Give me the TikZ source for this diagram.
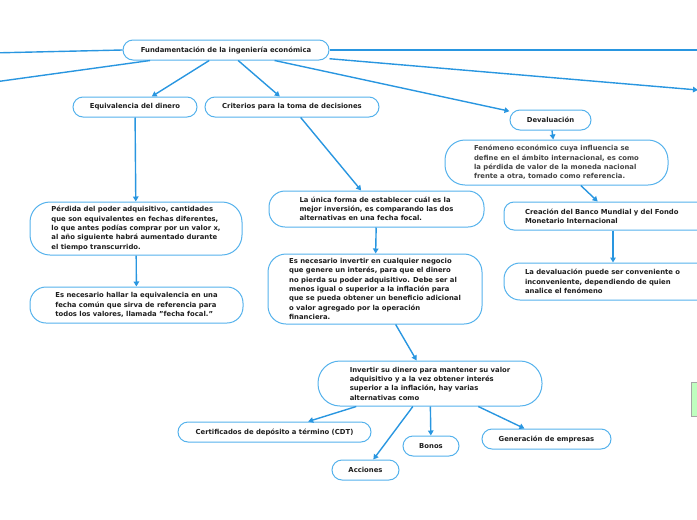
\documentclass[tikz,border=0pt]{standalone}
\usepackage{fontspec}
\setmainfont{DejaVu Sans}
\usetikzlibrary{arrows.meta}
\definecolor{lineblue}{HTML}{2996E0}
\definecolor{boxblue}{HTML}{55B2EC}
\definecolor{txt}{HTML}{1E1E1E}
\definecolor{txtgray}{HTML}{444444}
\begin{document}
\begin{tikzpicture}[x=1pt,y=-1pt,
  box/.style={draw=boxblue, line width=1pt, rounded corners=10pt, fill=white,
    align=left, text=txt, inner xsep=0pt, inner ysep=2pt,
    font=\fontsize{6.85}{9.3}\selectfont\bfseries},
  tallbox/.style={box, rounded corners=16pt},
  conn/.style={draw=lineblue, line width=1.4pt, -{Triangle[length=5pt,width=5.5pt]}},
  plain/.style={draw=lineblue, line width=1.4pt}]
\useasboundingbox (0,0) rectangle (697,520);

\node[box, minimum width=206pt, minimum height=20pt] (root) at (226,50) {Fundamentación de la ingeniería económica};
\node[box, minimum width=124pt, minimum height=20pt] (equiv) at (135,107) {Equivalencia del dinero};
\node[box, minimum width=174pt, minimum height=20pt] (crit) at (292,107) {Criterios para la toma de decisiones};
\node[box, minimum width=81pt, minimum height=20pt] (deval) at (550.5,120) {Devaluación};
\node[tallbox, minimum width=223pt, minimum height=45pt, rounded corners=20pt, text=txtgray] (fen) at (556.5,162.5)
  {Fenómeno económico cuya influencia se\\ define en el ámbito internacional, es como\\ la pérdida de valor de la moneda nacional\\ frente a otra, tomado como referencia.};
\node[box, text width=176pt, inner xsep=21pt, minimum height=28pt] (crea) at (613,216)
  {Creación del Banco Mundial y del Fondo\\ Monetario Internacional};
\node[tallbox, text width=176pt, inner xsep=21pt, minimum height=37pt] (ladev) at (613,281.5)
  {La devaluación puede ser conveniente o\\ inconveniente, dependiendo de quien\\ analice el fenómeno};
\node[tallbox, minimum width=212pt, minimum height=53pt, rounded corners=20pt] (perd) at (136,228.5)
  {Pérdida del poder adquisitivo, cantidades\\ que son equivalentes en fechas diferentes,\\ lo que antes podías comprar por un valor x,\\ al año siguiente habrá aumentado durante\\ el tiempo transcurrido.};
\node[tallbox, minimum width=213pt, minimum height=36pt] (hallar) at (136.5,305)
  {Es necesario hallar la equivalencia en una\\ fecha común que sirva de referencia para\\ todos los valores, llamada "fecha focal."};
\node[tallbox, minimum width=215pt, minimum height=36pt] (unica) at (376.5,209)
  {La única forma de establecer cuál es la\\ mejor inversión, es comparando las dos\\ alternativas en una fecha focal.};
\node[tallbox, minimum width=214pt, minimum height=70pt, rounded corners=18pt] (necinv) at (375,289)
  {Es necesario invertir en cualquier negocio\\ que genere un interés, para que el dinero\\ no pierda su poder adquisitivo. Debe ser al\\ menos igual o superior a la inflación para\\ que se pueda obtener un beneficio adicional\\ o valor agregado por la operación\\ financiera.};
\node[tallbox, minimum width=224pt, minimum height=45pt, rounded corners=22pt] (inv) at (430,383.5)
  {Invertir su dinero para mantener su valor\\ adquisitivo y a la vez obtener interés\\ superior a la inflación, hay varias\\ alternativas como};
\node[box, minimum width=193pt, minimum height=20pt] (cdt) at (274.5,432) {Certificados de depósito a término (CDT)};
\node[box, minimum width=67pt, minimum height=20pt] (acc) at (365.5,470) {Acciones};
\node[box, minimum width=56pt, minimum height=20pt] (bonos) at (431,446) {Bonos};
\node[box, minimum width=129pt, minimum height=20pt] (gen) at (546.5,439) {Generación de empresas};

\coordinate (offL1) at (-10,53);
\coordinate (offL2) at (-20,84);
\coordinate (offR1) at (710,50);
\coordinate (offR2) at (698,90);

\draw[plain] (root.west) -- (offL1);
\draw[plain] (root) -- (offL2);
\draw[plain] (root.east) -- (offR1);
\draw[conn] (root) -- (offR2);
\draw[conn] (root) -- (equiv);
\draw[conn] (root) -- (crit);
\draw[conn] (root) -- (deval);
\draw[conn] (equiv) -- (perd);
\draw[conn] (perd) -- (hallar);
\draw[conn] (crit) -- (unica);
\draw[conn] (unica) -- (necinv);
\draw[conn] (necinv) -- (inv);
\draw[conn] (deval) -- (fen);
\draw[conn] (fen) -- (crea);
\draw[conn] (crea) -- (ladev);
\draw[conn] (inv) -- (cdt);
\draw[conn] (inv) -- (acc);
\draw[conn] (inv) -- (bonos);
\draw[conn] (inv) -- (gen);

\draw[gray!70, fill=green!25!white, line width=0.8pt] (691,382) rectangle (702,416);
\end{tikzpicture}
\end{document}
